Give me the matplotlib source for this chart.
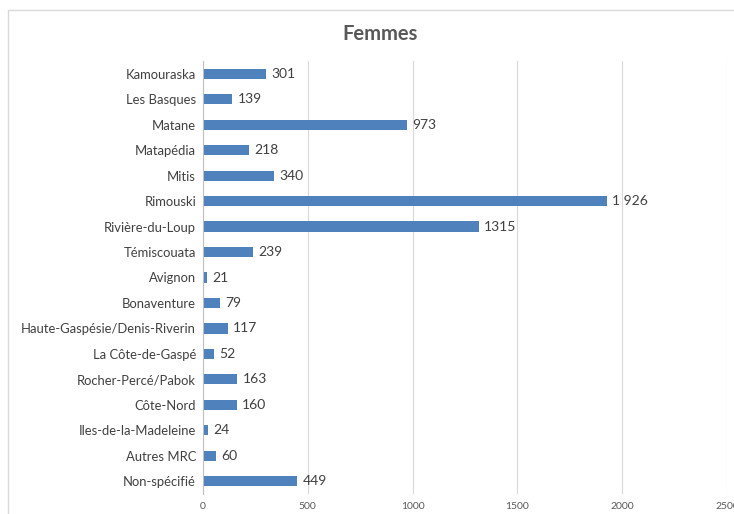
import matplotlib.pyplot as plt
from matplotlib.patches import Rectangle

plt.rcParams['font.family'] = ['Lato', 'DejaVu Sans']

regions = ["Kamouraska", "Les Basques", "Matane", "Matapédia", "Mitis",
           "Rimouski", "Rivière-du-Loup", "Témiscouata", "Avignon",
           "Bonaventure", "Haute-Gaspésie/Denis-Riverin", "La Côte-de-Gaspé",
           "Rocher-Percé/Pabok", "Côte-Nord", "Iles-de-la-Madeleine",
           "Autres MRC", "Non-spécifié"]
femmes = [301, 139, 973, 218, 340, 1926, 1315, 239, 21, 79, 117, 52, 163,
          160, 24, 60, 449]
value_labels = ["301", "139", "973", "218", "340", "1 926", "1315", "239",
                "21", "79", "117", "52", "163", "160", "24", "60", "449"]
xticks = [0, 500, 1000, 1500, 2000, 2500]

fig = plt.figure(figsize=(7.34, 5.14), dpi=100)
# chart frame
fig.patches.append(Rectangle((8 / 734, -0.1), 1.2, 1 - 10 / 514 + 0.1,
                             transform=fig.transFigure, fill=False,
                             edgecolor='#d9d9d9', linewidth=1))
ax = fig.add_axes([203 / 734, 1 - 494 / 514, 524 / 734, 433 / 514])

y = list(range(len(regions)))
ax.barh(y, femmes, height=0.4, color='#4f81bd', zorder=2)
for yi, v, lab in zip(y, femmes, value_labels):
    ax.text(v + 25, yi, lab, va='center', ha='left', fontsize=10,
            color='#404040')

ax.set_xlim(0, 2500)
ax.set_ylim(len(regions) - 0.5, -0.5)
ax.set_yticks(y)
ax.set_yticklabels(regions, fontsize=9.4, color='#404040')
ax.set_xticks(xticks)
ax.set_xticklabels([str(t) for t in xticks], fontsize=7.5, color='#595959')
ax.tick_params(axis='both', length=0)
ax.tick_params(axis='x', pad=6)
ax.tick_params(axis='y', pad=5)
ax.grid(axis='x', color='#d9d9d9', linewidth=0.8, zorder=0)
for s in ['top', 'right', 'bottom']:
    ax.spines[s].set_visible(False)
ax.spines['left'].set_color('#bfbfbf')

fig.text(380 / 734, 1 - 34 / 514, "Femmes", ha='center', va='center',
         fontsize=14.5, fontweight='bold', color='#595959')

fig.savefig('out.png', dpi=100)
